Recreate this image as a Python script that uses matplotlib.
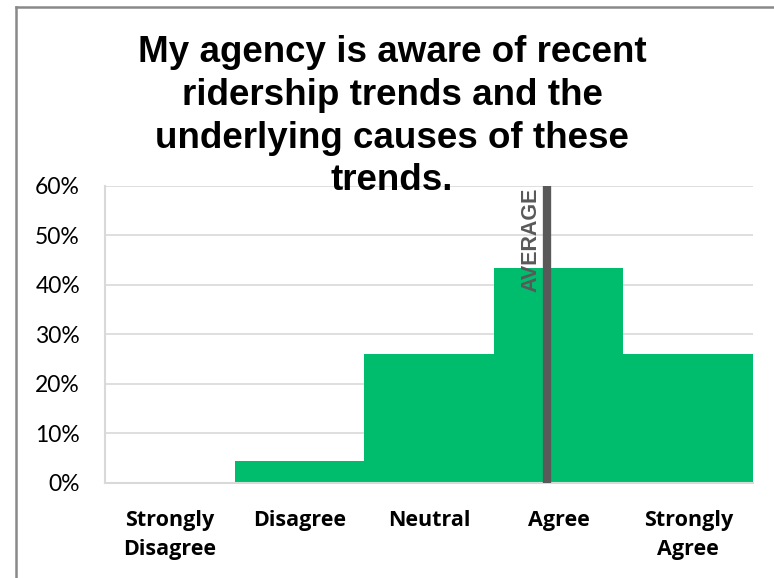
import matplotlib
matplotlib.use("Agg")
import matplotlib.pyplot as plt
import numpy as np
from matplotlib.lines import Line2D
from matplotlib.ticker import PercentFormatter

# survey data (share of responses, %)
categories = ["Strongly\nDisagree", "Disagree", "Neutral", "Agree", "Strongly\nAgree"]
scores = [1, 2, 3, 4, 5]
shares = [0.0, 4.35, 26.09, 43.48, 26.09]
title = "My agency is aware of recent\nridership trends and the\nunderlying causes of these\ntrends."

green = "#00BD6E"
grey = "#595959"

fig = plt.figure(figsize=(7.74, 5.78), dpi=100)
ax = fig.add_axes([105 / 774, 1 - 482.7 / 578, 648 / 774, (482.7 - 186) / 578])

x = np.arange(len(categories))
ax.bar(x, shares, width=1.0, color=green, zorder=2)

# weighted average response, placed on the category axis
avg = np.dot(scores, shares) / np.sum(shares)
avg_x = avg - 1
ax.axvline(avg_x, ymin=0, ymax=1.0, color=grey, lw=6, zorder=3)
ax.text(avg_x - 0.045, 59.6, "AVERAGE", rotation=90, ha="right", va="top",
        fontsize=15.5, fontweight="bold", color=grey, family="Liberation Sans", zorder=4)

ax.set_xlim(-0.5, 4.5)
ax.set_ylim(0, 60)
ax.set_yticks(np.arange(0, 61, 10))
ax.yaxis.set_major_formatter(PercentFormatter(decimals=0))
ax.grid(axis="y", color="#D9D9D9", lw=1.2, zorder=0)
ax.set_axisbelow(True)

for side in ["top", "right"]:
    ax.spines[side].set_visible(False)
for side in ["left", "bottom"]:
    ax.spines[side].set_color("#D9D9D9")
    ax.spines[side].set_linewidth(1.5)

ax.set_xticks(x)
ax.set_xticklabels(categories, fontsize=15.5, fontweight="bold", family="Open Sans", linespacing=1.5)
ax.tick_params(axis="x", length=0, pad=20)
ax.tick_params(axis="y", length=0, pad=18, labelsize=16.5)
for lab in ax.get_yticklabels():
    lab.set_family("Lato")

fig.text(392 / 774, 1 - 35 / 578, title, ha="center", va="top", fontsize=26.5,
         fontweight="bold", family="Liberation Sans", linespacing=1.29)

# outer chart border (left and top only are visible)
fig.add_artist(Line2D([16 / 774, 16 / 774], [0, 1 - 7 / 578], color="#898989", lw=1.8,
                      transform=fig.transFigure))
fig.add_artist(Line2D([16 / 774, 1], [1 - 7 / 578, 1 - 7 / 578], color="#898989", lw=1.8,
                      transform=fig.transFigure))

fig.savefig("out.png", dpi=100)
